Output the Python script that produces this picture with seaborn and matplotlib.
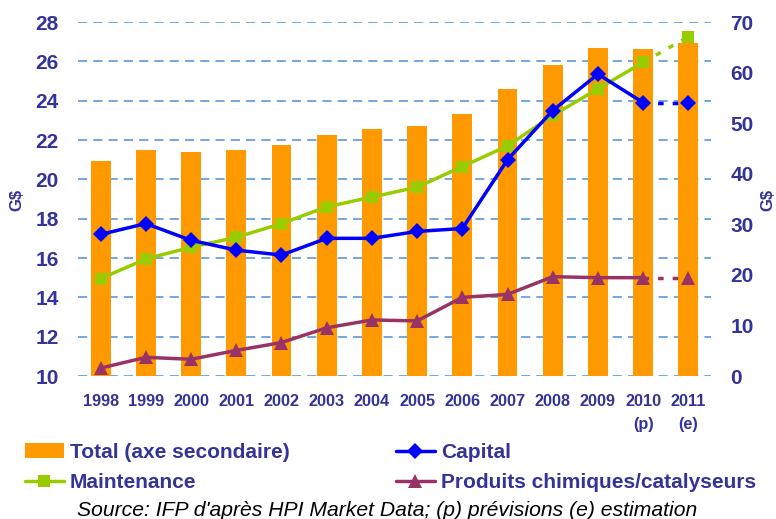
import numpy as np
import matplotlib
matplotlib.use("Agg")
import matplotlib.pyplot as plt
import seaborn as sns
from matplotlib.lines import Line2D
from matplotlib.patches import Patch

sns.set_theme(style="white")
plt.rcParams['font.family'] = ['Liberation Sans', 'DejaVu Sans']

# ---- data ----
years = ["1998", "1999", "2000", "2001", "2002", "2003", "2004", "2005",
         "2006", "2007", "2008", "2009", "2010", "2011"]
year_labels = ["1998", "1999", "2000", "2001", "2002", "2003", "2004", "2005",
               "2006", "2007", "2008", "2009", "2010\n(p)", "2011\n(e)"]
total = [42.5, 44.7, 44.3, 44.7, 45.7, 47.7, 48.8, 49.4, 51.8, 56.8, 61.5, 64.9, 64.7, 65.9]
capital = [17.2, 17.75, 16.9, 16.4, 16.15, 17.0, 17.0, 17.35, 17.5, 21.0, 23.5, 25.35, 23.9, 23.9]
maintenance = [14.95, 15.95, 16.55, 17.05, 17.75, 18.6, 19.1, 19.6, 20.65, 21.7, 23.25, 24.6, 25.95, 27.25]
produits = [10.4, 10.95, 10.85, 11.3, 11.7, 12.45, 12.85, 12.8, 14.0, 14.15, 15.05, 15.0, 15.0, 15.0]
left_ticks = [10, 12, 14, 16, 18, 20, 22, 24, 26, 28]
right_ticks = [0, 10, 20, 30, 40, 50, 60, 70]

NAVY = "#333399"
ORANGE = "#FF9900"
BLUE = "#0000FF"
GREEN = "#99CC00"
PURPLE = "#993366"
GRID = "#4A8FDD"

fig = plt.figure(figsize=(7.76, 5.19), dpi=100)
ax = fig.add_axes([78/776, 1-376/519, (711-78)/776, (376-22)/519])
ax2 = ax.twinx()
ax.set_zorder(ax2.get_zorder() + 1)
ax.patch.set_visible(False)

pos = np.arange(len(years))

# bars (secondary axis)
sns.barplot(x=pos, y=total, ax=ax2, color=ORANGE, width=0.44, saturation=1,
            linewidth=0, zorder=2)
ax2.set_ylim(0, 70)
ax2.set_yticks(right_ticks)

# gridlines aligned with left ticks, drawn behind bars
for v in left_ticks:
    ax2.axhline((v - 10) / 18 * 70, color=GRID, lw=1.1, ls=(0, (6, 4)), zorder=0)

MS = {"^": 10, "s": 9, "D": 8.5}

def series(vals, color, marker):
    ms = MS[marker]
    sns.lineplot(x=pos[:-1], y=vals[:-1], ax=ax, color=color, lw=2.5,
                 marker=marker, markersize=ms, markeredgewidth=0, zorder=3)
    sns.lineplot(x=pos[-2:], y=vals[-2:], ax=ax, color=color, lw=2.5,
                 ls=(0, (1.6, 2.6)), zorder=3)
    ax.plot(pos[-1:], vals[-1:], ls="none", marker=marker, markersize=ms,
            color=color, markeredgewidth=0, zorder=4)

series(produits, PURPLE, "^")
series(maintenance, GREEN, "s")
series(capital, BLUE, "D")

ax.set_ylim(10, 28)
ax.set_yticks(left_ticks)
ax.set_xlim(-0.5, len(years) - 0.5)
ax.set_xticks(pos)
ax.set_xticklabels(year_labels)

for a in (ax, ax2):
    for s in a.spines.values():
        s.set_visible(False)
    a.grid(False)
    a.set_xlabel("")
    a.set_ylabel("")

ax.tick_params(axis="y", length=0, pad=14, labelsize=15, labelcolor=NAVY)
ax2.tick_params(axis="y", length=0, pad=14, labelsize=15, labelcolor=NAVY)
ax.tick_params(axis="x", length=0, pad=13, labelsize=11.7, labelcolor=NAVY)
for lab in ax.get_yticklabels() + ax2.get_yticklabels() + ax.get_xticklabels():
    lab.set_fontweight("bold")
for lab in ax.get_xticklabels():
    lab.set_linespacing(1.7)

fig.text(17/776, 1-200/519, "G$", rotation=90, ha="center", va="center",
         fontsize=12, fontweight="bold", color=NAVY)
fig.text(768/776, 1-200/519, "G$", rotation=90, ha="center", va="center",
         fontsize=12, fontweight="bold", color=NAVY)

leg_kw = dict(frameon=False, handlelength=1.85, handletextpad=0.3,
              labelspacing=0.55, borderpad=0, borderaxespad=0, labelcolor=NAVY,
              prop={"weight": "bold", "size": 15})
h_total = Patch(facecolor=ORANGE, edgecolor="none")
h_maint = Line2D([], [], color=GREEN, lw=2.5, marker="s", markersize=9, markeredgewidth=0)
h_cap = Line2D([], [], color=BLUE, lw=2.5, marker="D", markersize=8.5, markeredgewidth=0)
h_prod = Line2D([], [], color=PURPLE, lw=2.5, marker="^", markersize=10, markeredgewidth=0)

fig.legend([h_total, h_maint], ["Total (axe secondaire)", "Maintenance"],
           loc="upper left", bbox_to_anchor=(25/776, 1-443/519), **leg_kw)
fig.legend([h_cap, h_prod], ["Capital", "Produits chimiques/catalyseurs"],
           loc="upper left", bbox_to_anchor=(396/776, 1-443/519), **leg_kw)

fig.text(387/776, 1-510/519, "Source: IFP d'après HPI Market Data; (p) prévisions (e) estimation",
         ha="center", va="center", fontsize=15.2, style="italic", color="black")

fig.savefig("out.png", dpi=100)
